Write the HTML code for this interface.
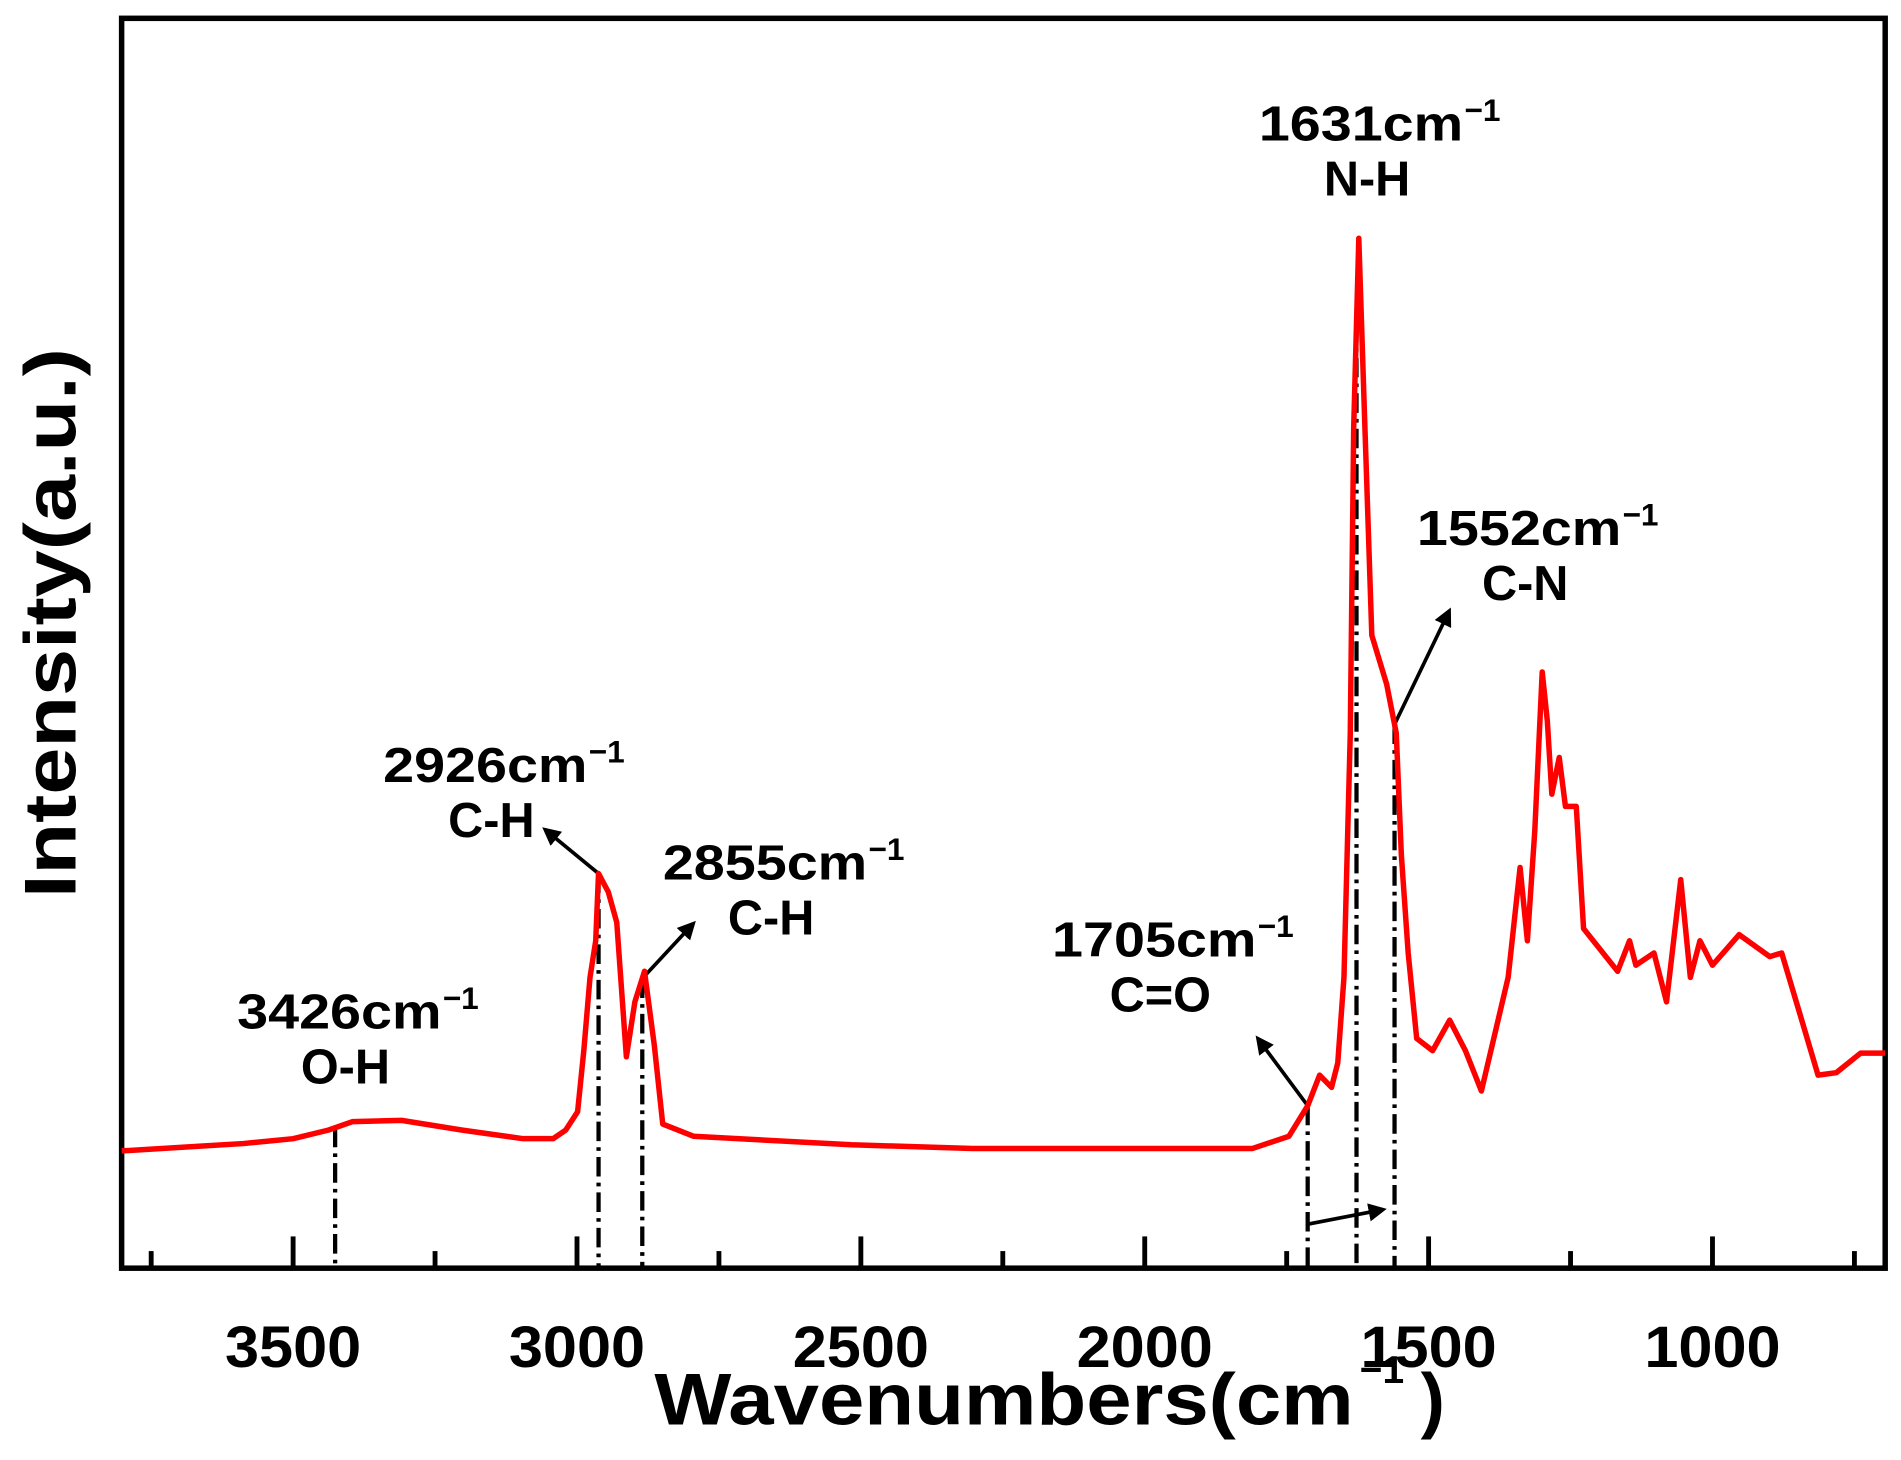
<!DOCTYPE html>
<html><head><meta charset="utf-8"><style>html,body{margin:0;padding:0;background:#fff}svg{display:block}</style></head>
<body>
<svg id="chart" width="1901" height="1460" viewBox="0 0 1563 1195" preserveAspectRatio="none" xmlns="http://www.w3.org/2000/svg" font-family="'Liberation Sans', Arial, sans-serif" font-weight="bold">
<rect x="100" y="15" width="1450" height="1023" fill="none" stroke="#000" stroke-width="4.5"/>
<g id="ticks"></g>
<g id="marks"></g>
<path id="spec" fill="none" stroke="#ff0000" stroke-width="4.5" stroke-linejoin="round"/>
<g id="labels"></g>
<text x="538" y="1166" font-size="60" textLength="575" lengthAdjust="spacingAndGlyphs">Wavenumbers(cm</text>
<text x="1118" y="1132" font-size="32">−1</text>
<text x="1168" y="1166" font-size="60">)</text>
<text transform="translate(62,510) rotate(-90)" font-size="60" text-anchor="middle" textLength="450" lengthAdjust="spacingAndGlyphs">Intensity(a.u.)</text>
</svg>
<script>
const wavenumbers=[3802,3588,3500,3438,3395,3309,3202,3095,3042,3020,2999,2988,2977,2967,2962,2945,2930,2913,2898,2881,2864,2849,2795,2517,2303,1810,1746,1713,1692,1671,1660,1649,1638,1632,1623,1613,1600,1574,1557,1548,1536,1521,1493,1463,1435,1407,1360,1339,1326,1313,1300,1291,1283,1270,1259,1240,1227,1167,1146,1135,1103,1081,1056,1039,1022,1000,953,899,878,846,814,782,739,696];
const intensity=[96,102,106,113,120,121,113,106,106,113,128,178,238,268,323,308,283,173,218,243,183,118,108,101,98,98,108,133,158,148,168,238,438,688,843,698,518,478,438,338,258,188,178,203,178,145,238,328,268,358,488,448,388,418,378,378,278,243,268,248,258,218,318,238,268,248,273,255,258,208,158,160,176,176];
const xTicksMajor=[3500,3000,2500,2000,1500,1000];
const xTicksMinor=[3750,3250,2750,2250,1750,1250,750];
const peakPositions=[3426,2962,2885,1713,1627,1560];
const peakLabels=[["3426cm","O-H"],["2926cm","C-H"],["2855cm","C-H"],["1705cm","C=O"],["1631cm","N-H"],["1552cm","C-N"]];
const X=w=>241+(3500-w)*0.4668;
const Y=v=>1038-v;
const NS="http://www.w3.org/2000/svg";
function mk(t,a,p){const e=document.createElementNS(NS,t);for(const k in a)e.setAttribute(k,a[k]);p.appendChild(e);return e;}
const tg=document.getElementById('ticks');
xTicksMajor.forEach(w=>{
 const l=mk('line',{x1:X(w),x2:X(w),y1:1038,y2:1012,stroke:'#000','stroke-width':4},tg);
 
 
 const t=mk('text',{x:X(w),y:1119,'font-size':48,'text-anchor':'middle',textLength:112,lengthAdjust:'spacingAndGlyphs'},tg);
 t.textContent=w;
 
 
});
xTicksMinor.forEach(w=>{
 const l=mk('line',{x1:X(w),x2:X(w),y1:1038,y2:1024,stroke:'#000','stroke-width':4},tg);
 
 
});
let d='';
wavenumbers.forEach((w,i)=>{d+=(i?'L':'M')+X(w).toFixed(1)+','+Y(intensity[i]).toFixed(1);});
document.getElementById('spec').setAttribute('d',d);
function interp(w){for(let i=0;i<wavenumbers.length-1;i++){const a=wavenumbers[i],b=wavenumbers[i+1];if(w<=a&&w>=b){const f=(a-w)/(a-b);return intensity[i]+f*(intensity[i+1]-intensity[i]);}}return 0;}
const mg=document.getElementById('marks');
const arrowDirs=[null,[-44,-36],[42,-45],[-41,-55],null,[45,-93]];
const labelPos=[[292,842],[412,640],[642,720],[962,783],[1132,115],[1262,446]];
mk('defs',{},mg).innerHTML='<marker id="ah" viewBox="0 0 10 10" refX="8" refY="5" markerWidth="5" markerHeight="5" orient="auto"><path d="M0,0L10,5L0,10z" fill="#000"/></marker>';
const lg=document.getElementById('labels');
peakPositions.forEach((w,i)=>{
 const x=X(w),y=Y(interp(w));
 const l=mk('line',{x1:x,x2:x,y1:y,y2:1038,stroke:'#000','stroke-width':3.5,'stroke-dasharray':'16,5,3,5'},mg);
 
 
 if(arrowDirs[i]){
  const a=mk('line',{x1:x,y1:y,x2:x+arrowDirs[i][0],y2:y+arrowDirs[i][1],stroke:'#000','stroke-width':3,'marker-end':'url(#ah)'},mg);
  
  
 }
 const [lx,ly]=labelPos[i];
 const t1=mk('text',{x:lx-97,y:ly,'font-size':40,textLength:168,lengthAdjust:'spacingAndGlyphs'},lg);
 t1.textContent=peakLabels[i][0];
 
 
 const s=mk('text',{x:lx+72,y:ly-16,'font-size':26},lg);
 s.textContent='−1';
 
 
 const t2=mk('text',{x:lx-8,y:ly+45,'font-size':40,'text-anchor':'middle'},lg);
 t2.textContent=peakLabels[i][1];
 
 
});
const sa=mk('line',{x1:X(1713),y1:1002,x2:X(1580),y2:990,stroke:'#000','stroke-width':3,'marker-end':'url(#ah)'},mg);


</script>
</body></html>
